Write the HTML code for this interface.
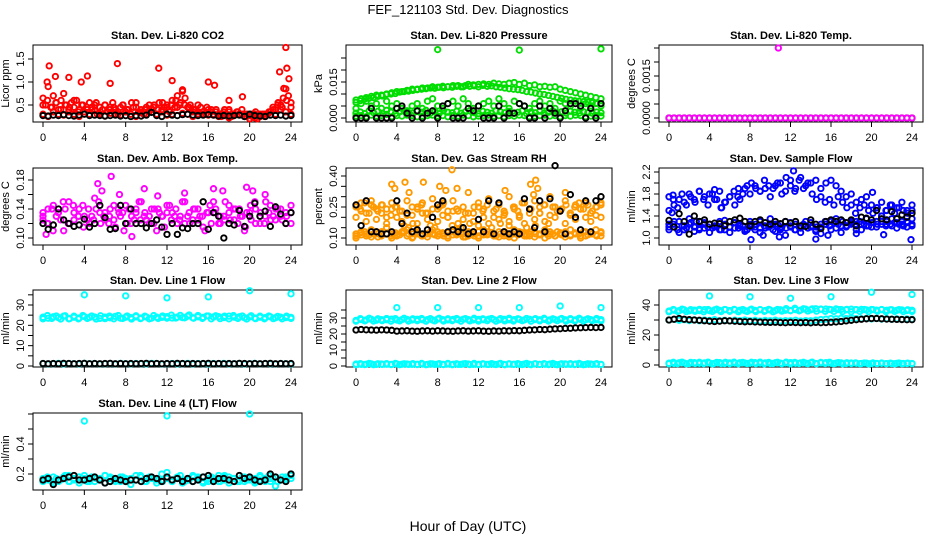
<!DOCTYPE html>
<html><head><meta charset="utf-8">
<style>
html,body{margin:0;padding:0;background:#fff;}
svg{display:block;font-family:"Liberation Sans",sans-serif;}
</style></head>
<body>
<svg id="chart" width="936" height="540" viewBox="0 0 936 540">
<text x="468" y="14" text-anchor="middle" font-size="13">FEF_121103  Std. Dev. Diagnostics</text>
<text x="468" y="531" text-anchor="middle" font-size="14">Hour of Day (UTC)</text>
</svg>
<script>
// ---- data (hours spread evenly 0..24) ----
const co2Red=[0.65,0.5,0.9,0.45,0.7,0.55,0.4,0.6,0.75,0.5,0.35,0.55,0.45,0.6,0.4,0.5,0.35,0.45,0.55,0.4,0.5,0.3,0.45,0.4,0.5,0.35,0.45,0.55,0.4,0.3,0.45,0.5,0.35,0.4,0.3,0.45,0.55,0.35,0.4,0.3,0.45,0.35,0.4,0.5,0.3,0.55,0.4,0.45,0.5,0.35,0.6,0.45,0.7,0.5,0.8,0.65,0.45,0.5,0.35,0.4,0.3,0.45,0.35,0.3,0.4,0.35,0.3,0.4,0.3,0.25,0.35,0.3,0.4,0.25,0.3,0.35,0.3,0.4,0.25,0.3,0.2,0.25,0.3,0.2,0.25,0.3,0.25,0.3,0.35,0.45,0.4,0.55,0.5,0.65,0.85,0.7,0.45];
const co2Red2=[0.3,0.25,0.35,0.3,0.28,0.4,0.3,0.25,0.35,0.3,0.38,0.3,0.26,0.32,0.3,0.28,0.35,0.3,0.25,0.33,0.3,0.42,0.3,0.35,0.28,0.3,0.45,0.32,0.3,0.25,0.35,0.3,0.28,0.3,0.25,0.3,0.22,0.28,0.3,0.25,0.28,0.22,0.3,0.26,0.35,0.3,0.4,0.35,0.3];
const co2Red3=[0.5,0.6,0.45,0.55,0.4,0.5,0.45,0.6,0.35,0.5,0.4,0.45,0.55,0.35,0.5,0.4,0.45,0.35,0.5,0.4,0.55,0.45,0.35,0.4,0.5,0.45,0.4,0.55,0.45,0.5,0.6,0.55,0.5,0.45,0.4,0.5,0.35,0.45,0.4,0.35,0.3,0.4,0.35,0.3,0.35,0.3,0.25,0.3,0.35,0.25,0.3,0.35,0.4,0.5,0.45,0.6,0.55];
const co2Black=[0.27,0.26,0.28,0.27,0.29,0.27,0.26,0.28,0.3,0.27,0.28,0.27,0.26,0.27,0.28,0.26,0.27,0.25,0.27,0.26,0.28,0.34,0.27,0.25,0.3,0.28,0.27,0.29,0.3,0.28,0.27,0.28,0.29,0.28,0.26,0.27,0.26,0.27,0.28,0.25,0.3,0.27,0.26,0.25,0.28,0.27,0.28,0.26,0.27];
const co2OutH=[0.4,0.6,1.2,2.5,3.7,4.3,6.5,7.2,11.2,12.5,13.5,16,16.6,18,19.3,22.9,23.3,23.5,23.6,23.8];
const co2OutV=[1.0,1.35,1.12,1.1,1.0,1.13,0.97,1.4,1.3,1.03,0.83,1.0,0.93,0.6,0.68,1.22,0.86,1.75,1.3,1.07];

const prsUpper=[0.0075,0.008,0.0085,0.009,0.0095,0.0095,0.01,0.0105,0.011,0.011,0.0115,0.012,0.012,0.0125,0.0125,0.013,0.0128,0.0132,0.013,0.0135,0.0135,0.013,0.014,0.0138,0.014,0.0142,0.014,0.0145,0.0142,0.014,0.0145,0.0148,0.014,0.0145,0.0135,0.0138,0.013,0.0132,0.0128,0.013,0.012,0.0115,0.011,0.0105,0.01,0.0095,0.009,0.0085,0.008];
const prsUpper2=[0.0065,0.0072,0.0078,0.0082,0.0085,0.009,0.0092,0.0098,0.01,0.0102,0.0108,0.011,0.0112,0.0115,0.0118,0.012,0.0122,0.0125,0.0124,0.0128,0.0126,0.013,0.0128,0.0132,0.013,0.0135,0.0132,0.0134,0.013,0.0136,0.0132,0.0134,0.013,0.0128,0.0125,0.0122,0.012,0.0118,0.0115,0.011,0.0108,0.0104,0.01,0.0098,0.0094,0.009,0.0086,0.0082,0.0078,0.0075,0.0072,0.007,0.0068,0.0066,0.0064,0.0062,0.006];
const prsMid=[0.004,0.006,0.007,0.005,0.006,0.004,0.007,0.005,0.006,0.004,0.003,0.005,0.006,0.004,0.007,0.008,0.005,0.004,0.006,0.007,0.005,0.008,0.006,0.004,0.005,0.006,0.007,0.005,0.008,0.006,0.004,0.007,0.006,0.005,0.004,0.006,0.007,0.005,0.006,0.004,0.007,0.006,0.005,0.007,0.004,0.006,0.005,0.006,0.005];
const prsLow=[0.0008,0.001,0.0005,0.0012,0.0008,0.001,0.0015,0.0005,0.001,0.0008,0.0012,0.001,0.0005,0.0008,0.001,0.0012,0.0008,0.001,0.0005,0.001,0.0008,0.0012,0.001,0.0005,0.0008,0.001,0.0012,0.0008,0.001,0.0005,0.001,0.0008,0.0012,0.001,0.0005,0.0008,0.001,0.0012,0.0008,0.001,0.0005,0.001,0.0008,0.0012,0.001,0.0005,0.0008,0.001,0.0008];
const prsLow2=[0.002,0.0025,0.0018,0.003,0.0022,0.0028,0.002,0.0032,0.0024,0.0018,0.0026,0.003,0.0022,0.002,0.0028,0.0024,0.0032,0.002,0.0026,0.0018,0.003,0.0024,0.0022,0.0028,0.002,0.0026,0.003,0.0022,0.0018,0.0028,0.0024,0.002,0.003,0.0026,0.0022,0.0028,0.002,0.0024,0.003,0.0018,0.0026,0.0022,0.0028,0.002,0.0024,0.003,0.0022,0.0026,0.002,0.0028,0.0024,0.002,0.0026,0.0022,0.002,0.0025,0.0022];
const prsBlack=[0,0,0,0.004,0,0,0,0,0.004,0.005,0.002,0,0.003,0,0.002,0.003,0,0.005,0.006,0,0,0,0.004,0.003,0.005,0,0,0,0.005,0,0.002,0.002,0.006,0.005,0,0,0.005,0,0.004,0.002,0,0.003,0.006,0.006,0.005,0,0.004,0,0.006];
const prsOutH=[8,16,24];
const prsOutV=[0.0285,0.0283,0.0288];

const tmpMag=[0,0,0,0,0,0,0,0,0,0,0,0,0,0,0,0,0,0,0,0,0,0,0,0,0,0,0,0,0,0,0,0,0,0,0,0,0,0,0,0,0,0,0,0,0,0,0,0,0];
const tmpBlack=[0,0,0,0,0,0,0,0,0,0,0,0,0,0,0,0,0,0,0,0,0,0,0,0,0,0,0,0,0,0,0,0,0,0,0,0,0,0,0,0,0,0,0,0,0,0,0,0,0];
const tmpOutH=[10.8];
const tmpOutV=[0.0025];

const ambMag=[0.125,0.14,0.11,0.135,0.15,0.12,0.145,0.13,0.115,0.14,0.125,0.15,0.13,0.12,0.145,0.135,0.11,0.14,0.125,0.15,0.13,0.12,0.14,0.135,0.115,0.145,0.13,0.125,0.15,0.12,0.14,0.13,0.11,0.145,0.135,0.12,0.15,0.125,0.14,0.13,0.115,0.145,0.12,0.135,0.15,0.125,0.14,0.13,0.12,0.145];
const ambMag2=[0.13,0.12,0.145,0.135,0.11,0.15,0.125,0.14,0.13,0.12,0.155,0.135,0.125,0.14,0.115,0.13,0.145,0.12,0.135,0.15,0.125,0.14,0.11,0.13,0.145,0.135,0.12,0.15,0.13,0.125,0.14,0.115,0.135,0.15,0.12,0.13,0.145,0.125,0.14,0.11,0.135,0.15,0.12,0.13,0.145,0.125,0.14,0.135,0.12];
const ambMag3=[0.135,0.12,0.14,0.13,0.125,0.14,0.12,0.135,0.13,0.145,0.125,0.13,0.14,0.12,0.135,0.13,0.125,0.14,0.135,0.12,0.13,0.14,0.125,0.135,0.13,0.12,0.14,0.13,0.135,0.125,0.14,0.13,0.12,0.135,0.14,0.125,0.13,0.135,0.12,0.14,0.13,0.125,0.135,0.14,0.12,0.13,0.135,0.125,0.14,0.13,0.12,0.135,0.13,0.14,0.125,0.13,0.135];
const ambBlack=[0.12,0.112,0.118,0.14,0.125,0.12,0.116,0.118,0.126,0.115,0.12,0.145,0.128,0.112,0.113,0.145,0.12,0.14,0.12,0.12,0.114,0.12,0.125,0.115,0.105,0.12,0.105,0.114,0.113,0.12,0.12,0.15,0.112,0.135,0.13,0.1,0.12,0.118,0.138,0.116,0.13,0.148,0.13,0.137,0.116,0.143,0.133,0.12,0.135];
const ambOutH=[0.3,5.3,5.7,6.6,9.8,11.1,13.7,16.5,17.4,19.7,20.3,21.5,7.4,8.6];
const ambOutV=[0.105,0.175,0.165,0.185,0.168,0.158,0.162,0.168,0.165,0.17,0.165,0.16,0.16,0.102];

const rhLow=[0.12,0.13,0.11,0.14,0.12,0.13,0.15,0.12,0.11,0.13,0.14,0.12,0.13,0.11,0.12,0.14,0.13,0.12,0.11,0.13,0.14,0.12,0.13,0.12,0.11,0.14,0.13,0.12,0.13,0.11,0.12,0.14,0.13,0.12,0.11,0.13,0.12,0.14,0.13,0.11,0.12,0.13,0.14,0.12,0.11,0.13,0.12,0.14,0.13];
const rhLow2=[0.1,0.115,0.12,0.105,0.13,0.11,0.12,0.1,0.115,0.125,0.11,0.1,0.12,0.115,0.105,0.12,0.11,0.125,0.1,0.115,0.12,0.105,0.11,0.13,0.1,0.115,0.12,0.11,0.105,0.12,0.115,0.1,0.125,0.11,0.12,0.105,0.115,0.1,0.12,0.11,0.125,0.105,0.115,0.12,0.1,0.11,0.12,0.115,0.11];
const rhLow3=[0.11,0.125,0.13,0.115,0.12,0.105,0.13,0.12,0.11,0.125,0.115,0.13,0.12,0.105,0.125,0.11,0.12,0.13,0.115,0.12,0.11,0.125,0.13,0.115,0.12,0.105,0.125,0.11,0.13,0.12,0.115,0.125,0.11,0.12,0.13,0.105,0.12,0.115,0.125,0.11,0.13,0.12,0.115,0.125,0.11,0.12,0.13,0.115,0.12,0.11,0.125,0.12,0.13,0.115,0.12,0.11,0.125];
const rhHigh=[0.25,0.27,0.22,0.28,0.24,0.26,0.2,0.27,0.25,0.23,0.28,0.21,0.25,0.27,0.22,0.29,0.24,0.26,0.2,0.28,0.23,0.25,0.32,0.22,0.27,0.24,0.29,0.2,0.26,0.23,0.3,0.25,0.21,0.27,0.24,0.28,0.22,0.26,0.3,0.25,0.23,0.28,0.21,0.26,0.24,0.27,0.22,0.25,0.26];
const rhHigh2=[0.2,0.23,0.18,0.26,0.19,0.22,0.17,0.24,0.2,0.18,0.21,0.25,0.17,0.22,0.19,0.24,0.18,0.21,0.2,0.23,0.17,0.19,0.22,0.18,0.25,0.2,0.17,0.23,0.19,0.21,0.18,0.24,0.2,0.17,0.22,0.19,0.25,0.18,0.21,0.2,0.23,0.17,0.22,0.19,0.24,0.2,0.18,0.21,0.2];
const rhHigh3=[0.26,0.24,0.27,0.22,0.25,0.23,0.26,0.24,0.21,0.25,0.23,0.16,0.15,0.17,0.24,0.26,0.22,0.16,0.15,0.25,0.27,0.23,0.16,0.24,0.15,0.22,0.17,0.25,0.16,0.23,0.26,0.15,0.24,0.17,0.22,0.16,0.25,0.23,0.27,0.15,0.24,0.16,0.22,0.26,0.17,0.25,0.23,0.24,0.26,0.22,0.25,0.27,0.24,0.26,0.23,0.25,0.27];
const rhOutH=[3.5,3.8,4.8,5.2,6.6,9.4,9.9,8.2,8.8,17.1,17.4,17.6,17.8,20.5,14.6];
const rhOutV=[0.36,0.34,0.37,0.32,0.37,0.43,0.34,0.35,0.33,0.36,0.31,0.38,0.34,0.32,0.33];
const rhBlack=[0.26,0.16,0.28,0.13,0.13,0.12,0.12,0.13,0.28,0.17,0.22,0.13,0.14,0.12,0.14,0.2,0.26,0.28,0.13,0.14,0.13,0.15,0.12,0.13,0.19,0.13,0.28,0.12,0.27,0.13,0.12,0.13,0.12,0.29,0.24,0.15,0.28,0.13,0.29,0.45,0.23,0.12,0.31,0.2,0.14,0.28,0.13,0.28,0.3];

const sfLow=[1.25,1.2,1.3,1.15,1.25,1.2,1.3,1.18,1.25,1.22,1.3,1.15,1.2,1.28,1.22,1.15,1.25,1.2,1.3,1.18,1.22,1.25,1.15,1.3,1.2,1.25,1.18,1.22,1.28,1.15,1.2,1.25,1.3,1.18,1.22,1.2,1.25,1.3,1.15,1.22,1.28,1.2,1.25,1.3,1.22,1.18,1.25,1.3,1.22];
const sfLow2=[1.15,1.3,1.1,1.22,1.35,1.12,1.18,1.28,1.1,1.2,1.15,1.32,1.1,1.18,1.25,1.12,1.3,1.15,1.1,1.22,1.35,1.12,1.18,1.05,1.28,1.15,1.1,1.3,1.2,1.12,1.08,1.25,1.15,1.35,1.1,1.22,1.3,1.15,1.25,1.35,1.2,1.3,1.4,1.25,1.35,1.28,1.3,1.2,1.35];
const sfLow3=[1.2,1.25,1.15,1.22,1.18,1.28,1.2,1.15,1.25,1.2,1.18,1.22,1.15,1.25,1.2,1.28,1.18,1.22,1.15,1.2,1.25,1.18,1.22,1.2,1.15,1.25,1.2,1.18,1.22,1.15,1.2,1.25,1.18,1.22,1.2,1.25,1.3,1.22,1.28,1.25,1.3,1.22,1.28,1.25,1.3,1.25,1.22,1.28,1.25,1.3,1.22,1.25,1.28,1.25,1.22,1.28,1.25];
const sfHigh=[1.75,1.6,1.7,1.65,1.8,1.7,1.85,1.75,1.8,1.7,1.85,1.65,1.75,1.6,1.7,1.9,1.8,1.95,1.85,1.9,1.75,1.95,2.0,1.85,2.05,1.9,2.1,1.95,2.0,2.05,1.9,2.0,2.05,1.95,1.85,1.75,1.8,1.65,1.7,1.75,1.6,1.55,1.65,1.5,1.6,1.55,1.65,1.5,1.6];
const sfHigh2=[1.5,1.7,1.55,1.8,1.6,1.75,1.65,1.85,1.7,1.6,1.8,1.7,1.55,1.65,1.75,1.85,1.9,1.8,1.95,2.0,1.9,1.85,2.05,1.95,1.9,2.0,1.8,2.1,1.95,1.85,2.05,1.9,2.0,1.8,1.7,1.75,1.65,1.7,1.6,1.75,1.65,1.55,1.6,1.45,1.55,1.6,1.5,1.45,1.55,1.4,1.5,1.6,1.45,1.55,1.5,1.45,1.5];
const sfOutH=[0.4,2.7,5.2,8.1,9.3,10.9,12.3,14.5,15.7,18.5,20.1,21.2,23.9,0.3,4.5,6.8];
const sfOutV=[1.78,1.3,1.55,0.97,1.05,1.02,2.22,0.98,1.05,1.08,1.83,1.06,0.97,1.46,1.88,1.75];
const sfBlack=[1.32,1.2,1.44,1.3,1.07,1.4,1.3,1.33,1.25,1.27,1.26,1.22,1.3,1.33,1.36,1.3,1.22,1.3,1.33,1.28,1.25,1.3,1.26,1.3,1.27,1.3,1.22,1.21,1.33,1.25,1.17,1.3,1.33,1.3,1.33,1.28,1.33,1.22,1.38,1.36,1.33,1.5,1.35,1.33,1.48,1.35,1.42,1.38,1.45];

const l1Cyan=[24,23.5,24.2,23.8,24.5,23.2,24,23.6,24.3,23.9,24.1,23.4,24,23.7,24.4,23.5,24,23.8,24.2,23.6,24.1,23.5,24,23.9,24.3,23.6,24,23.8,24.5,23.7,24.2,23.9,24.6,24.1,24.3,23.8,24.5,24,24.2,23.7,24.1,23.6,24,23.8,24.2,23.7,24,23.8,23.9];
const l1Cyan2=[23.2,24.8,23.4,24.6,23.1,24.7,23.3,24.5,23.2,24.8,23.4,24.6,23.1,24.7,23.3,24.5,23.2,24.8,23.4,24.6,23.1,24.7,23.3,24.5,23.2,24.8,23.4,24.6,23.5,25,23.6,24.9,23.7,25.1,23.5,24.8,23.4,24.6,23.2,24.7,23.3,24.5,23.2,24.8,23.4,24.6,23.1,24.7,23.3,24.5,23.2,24.6,23.3,24.4,23.2,24.5,23.4];
const l1CyanLow=[1.2,1,1.1,1.3,1,1.2,1.1,1,1.3,1.1,1.2,1,1.1,1.2,1,1.3,1.1,1,1.2,1.1,1,1.3,1.2,1,1.1,1.2,1,1.1,1.3,1,1.2,1.1,1,1.2,1.1,1.3,1,1.1,1.2,1,1.1,1.3,1,1.2,1.1,1,1.2,1.1,1];
const l1Black=[1.2,1.1,1.2,1.1,1.3,1.2,1.1,1.2,1.3,1.1,1.2,1.1,1.2,1.3,1.1,1.2,1.1,1.2,1.1,1.2,1.3,1.1,1.2,1.1,1.2,1.1,1.3,1.2,1.1,1.2,1.1,1.2,1.3,1.1,1.2,1.1,1.2,1.1,1.3,1.2,1.1,1.2,1.1,1.2,1.3,1.1,1.2,1.1,1.2];
const l1OutH=[4,8,12,16,20,24];
const l1OutV=[35,34.5,33.5,34,37,35.5];

const l2Cyan=[28.5,29,28.8,29.2,28.6,29,28.9,29.3,28.7,29,29.1,28.8,29.2,28.9,29,28.7,29.3,29,28.8,29.1,28.9,29.2,29,28.8,29.1,28.9,29.3,29,28.8,29.2,28.9,29,29.1,28.8,29.2,29,28.9,29.1,28.8,29,29.2,28.9,29,28.8,29.1,28.9,29,28.8,29];
const l2Cyan2=[28,29.6,28.2,29.8,28.1,29.5,28.3,29.7,28,29.6,28.2,29.8,28.1,29.5,28.3,29.7,28,29.6,28.2,29.8,28.1,29.5,28.3,29.7,28,29.6,28.2,29.8,28.1,29.5,28.3,29.7,28,29.6,28.2,29.8,28.1,29.5,28.3,29.7,28,29.6,28.2,29.8,28.1,29.5,28.3,29.7,28,29.6,28.2,29.8,28.1,29.5,28.3,29.7,28.2];
const l2CyanLow=[1.2,1,1.1,1.3,1,1.2,1.1,1,1.3,1.1,1.2,1,1.1,1.2,1,1.3,1.1,1,1.2,1.1,1,1.3,1.2,1,1.1,1.2,1,1.1,1.3,1,1.2,1.1,1,1.2,1.1,1.3,1,1.1,1.2,1,1.1,1.3,1,1.2,1.1,1,1.2,1.1,1];
const l2CyanLow2=[0.8,1.5,0.9,1.6,0.8,1.4,1,1.5,0.9,1.6,0.8,1.4,1,1.5,0.9,1.6,0.8,1.4,1,1.5,0.9,1.6,0.8,1.4,1,1.5,0.9,1.6,0.8,1.4,1,1.5,0.9,1.6,0.8,1.4,1,1.5,0.9,1.6,0.8,1.4,1,1.5,0.9,1.6,0.8,1.4,1,1.5,0.9,1.6,0.8,1.4,1,1.5,0.9];
const l2Black=[22.5,22.8,22.6,22.5,22.4,22.6,22.5,22.3,21.8,21.9,22,21.8,21.7,21.9,22,21.8,22,21.9,21.8,21.7,21.9,22,21.8,21.9,22,21.8,21.7,21.9,21.8,22,21.9,22.1,22,22.3,22.5,22.6,22.8,22.7,23,23.2,23.3,23.5,23.6,23.8,23.9,24,24.1,24,24.1];
const l2OutH=[4,8,12,16,20,24];
const l2OutV=[36.5,36.5,36.5,36.5,37.5,36.5];

const l3Cyan=[36,36.5,36.2,36.8,36.1,36.6,36.3,36.9,36.2,36.7,36.4,37,36.3,36.8,36.5,36.2,36.7,36.4,36.9,36.3,36.6,36.2,36.8,36.5,36.3,36.9,36.6,37.2,36.8,37.5,37.1,37.3,36.9,37.4,37,36.8,37.2,36.9,37.1,36.7,37,36.6,36.9,36.5,36.8,36.4,36.7,36.3,36.5];
const l3Cyan2=[35.5,37,35.7,37.2,35.6,36.9,35.8,37.1,35.5,37,35.7,37.2,35.6,36.9,35.8,37.1,35.5,37,35.7,37.2,35.6,36.9,35.8,37.1,35.5,37,35.9,37.6,36.2,37.8,36.1,37.5,36,37.4,35.9,37.3,35.8,37.1,35.7,37,35.6,37.1,35.5,36.9,35.7,37,35.6,36.9,35.8,37,35.5,36.8,35.7,36.9,35.6,36.8,35.7];
const l3CyanMid=[30,30.5,29.8,30.2,29.6,30.1,29.5,30,29.7,30.2,29.5,29.8,29.4,29.9,29.6,30,29.5,29.8,29.3,29.7,29.5,29.9,29.4,29.6,29.5,29.8,29.3,29.6,29.5,29.9,30.3,30.6,31,30.8,31.2,31,31.4,31,30.8,31.1,30.7,31,30.6,30.9,30.5,30.8,30.4,30.7,30.5];
const l3CyanLow=[1.2,1,1.5,1.3,1,1.6,1.1,1.4,1.3,1.1,1.6,1,1.4,1.2,1.5,1.3,1.1,1.6,1.2,1.4,1,1.5,1.2,1.3,1.6,1.1,1.4,1.2,1.5,1,1.3,1.6,1.1,1.2,1.4,1,1.3,1.1,1,1.2,0.9,1,1.1,0.9,1,1.1,0.9,1,1];
const l3CyanLow2=[0.8,1.8,0.9,1.9,0.8,1.7,1,1.8,0.9,1.9,0.8,1.7,1,1.8,0.9,1.9,0.8,1.7,1,1.8,0.9,1.9,0.8,1.7,1,1.8,0.9,1.9,0.8,1.7,1,1.8,0.9,1.9,0.8,1.7,1,1.8,0.9,1.6,0.8,1.5,1,1.4,0.9,1.3,0.8,1.4,1,1.3,0.9,1.2,0.8,1.3,1,1.2,0.9];
const l3Black=[30,30.5,31,30.5,30.2,30,29.8,29.5,29.2,29,29.2,29.5,29.4,29.2,29,28.8,28.9,28.7,28.6,28.5,28.4,28.5,28.3,28.2,28.4,28.3,28.2,28.3,28.1,28.4,28.2,28.3,28.5,28.7,29,29.4,29.8,30.2,30.5,30.8,31,31,30.8,30.6,30.5,30.4,30.3,30.2,30.2];
const l3OutH=[4,8,12,16,20,24];
const l3OutV=[46,45.5,44.5,45.5,48.5,47];

const l4Cyan=[0.17,0.16,0.18,0.15,0.17,0.19,0.16,0.18,0.17,0.15,0.18,0.16,0.19,0.17,0.15,0.18,0.16,0.17,0.19,0.15,0.17,0.18,0.16,0.2,0.17,0.15,0.18,0.16,0.17,0.19,0.16,0.18,0.15,0.17,0.19,0.16,0.18,0.17,0.15,0.18,0.16,0.17,0.19,0.15,0.17,0.18,0.16,0.17,0.19];
const l4Cyan2=[0.15,0.17,0.14,0.16,0.18,0.15,0.17,0.14,0.19,0.16,0.15,0.17,0.14,0.18,0.16,0.15,0.17,0.13,0.16,0.18,0.15,0.17,0.14,0.16,0.21,0.15,0.17,0.14,0.16,0.15,0.18,0.14,0.17,0.16,0.15,0.18,0.14,0.17,0.16,0.15,0.18,0.14,0.16,0.17,0.15,0.12,0.16,0.18,0.2];
const l4Cyan3=[0.16,0.18,0.15,0.17,0.16,0.19,0.15,0.17,0.18,0.16,0.15,0.18,0.17,0.16,0.19,0.15,0.17,0.16,0.18,0.15,0.17,0.16,0.19,0.15,0.18,0.17,0.16,0.15,0.18,0.16,0.17,0.19,0.15,0.16,0.18,0.17,0.15,0.16,0.18,0.17,0.15,0.19,0.16,0.17,0.15,0.18,0.16,0.17,0.15,0.18,0.16,0.19,0.17,0.15,0.18,0.16,0.17];
const l4Black=[0.16,0.17,0.13,0.16,0.17,0.18,0.19,0.16,0.16,0.17,0.18,0.16,0.14,0.15,0.17,0.16,0.15,0.16,0.16,0.15,0.17,0.18,0.17,0.15,0.18,0.16,0.17,0.15,0.17,0.15,0.16,0.18,0.19,0.15,0.17,0.17,0.16,0.15,0.19,0.17,0.18,0.16,0.15,0.16,0.2,0.18,0.16,0.15,0.2];
const l4OutH=[4,12,20];
const l4OutV=[0.553,0.587,0.6];

// ---- rendering ----
const NS='http://www.w3.org/2000/svg';
const svg=document.getElementById('chart');
function mk(tag,attrs,parent){const e=document.createElementNS(NS,tag);for(const k in attrs)e.setAttribute(k,attrs[k]);(parent||svg).appendChild(e);return e;}

function panel(p){
  const g=mk('g',{});
  
  
  const L=p.x,T=p.y,W=p.w,H=77,B=T+H;
  const xs=h=>L+10+h*(W-11-10)/24;
  const ys=v=>p.p0+(v-p.v0)*(p.p1-p.p0)/(p.v1-p.v0);
  const t=mk('text',{x:L+W/2,y:T-6,'text-anchor':'middle','font-size':11,'font-weight':'bold'},g);
  t.textContent=p.title;
  
  
  const box=mk('rect',{x:L,y:T,width:W,height:H,fill:'none',stroke:'#000','stroke-width':1},g);
  
  
  const xa=mk('g',{},g);
  
  
  mk('line',{x1:xs(0),x2:xs(24),y1:B,y2:B,stroke:'#000'},xa);
  for(let h=0;h<=24;h+=4){
    mk('line',{x1:xs(h),x2:xs(h),y1:B,y2:B+5,stroke:'#000'},xa);
    const tl=mk('text',{x:xs(h),y:B+19,'text-anchor':'middle','font-size':11},xa);
    tl.textContent=h;
    
    
  }
  const ya=mk('g',{},g);
  
  
  mk('line',{x1:L,x2:L,y1:ys(p.ticks[0]),y2:ys(p.ticks[p.ticks.length-1]),stroke:'#000'},ya);
  p.ticks.forEach((v,i)=>{
    const y=ys(v);
    mk('line',{x1:L,x2:L-5,y1:y,y2:y,stroke:'#000'},ya);
    if(p.labels[i]){
      const tl=mk('text',{x:0,y:0,'text-anchor':'middle','font-size':11,transform:`translate(${L-9},${y}) rotate(-90)`},ya);
      tl.textContent=p.labels[i];
      
      
    }
  });
  const yt=mk('text',{x:0,y:0,'text-anchor':'middle','font-size':11,transform:`translate(${L-24},${T+H/2}) rotate(-90)`},g);
  yt.textContent=p.ylab;
  
  
  p.series.forEach(s=>{
    const sg=mk('g',{fill:'none',stroke:s.color,'stroke-width':1.9},g);
    
    
    const n=s.vals.length;
    s.vals.forEach((v,i)=>{
      const h=s.hours?s.hours[i]:i*24/(n-1);
      const c=mk('circle',{cx:xs(h),cy:ys(v),r:2.7},sg);
      
      
    });
  });
}
const RED='#ff0000',GRN='#00dd00',MAG='#ff00ff',ORA='#ff9900',BLU='#0000ff',CY='#00ffff',BK='#000000';
const c1=33,c2=346,c3=659,r1=45,r2=168,r3=290,r4=413;
const panels=[
 {name:'panel-co2',title:'Stan. Dev. Li-820 CO2',ylab:'Licor ppm',x:c1,y:r1,w:269,v0:0.5,p0:105,v1:1.5,p1:59,ticks:[0.5,1,1.5],labels:['0.5','1.0','1.5'],
  series:[{name:'co2-series',color:RED,vals:co2Red},{name:'co2-series-b',color:RED,vals:co2Red2},{name:'co2-series-c',color:RED,vals:co2Red3},{name:'co2-outliers',color:RED,vals:co2OutV,hours:co2OutH},{name:'co2-hourly',color:BK,vals:co2Black}]},
 {name:'panel-pressure',title:'Stan. Dev. Li-820 Pressure',ylab:'kPa',x:c2,y:r1,w:266,v0:0,p0:118,v1:0.015,p1:82,ticks:[0,0.005,0.01,0.015,0.02,0.025],labels:['0.000','','','0.015','',''],
  series:[{name:'pressure-upper',color:GRN,vals:prsUpper},{name:'pressure-upper-b',color:GRN,vals:prsUpper2},{name:'pressure-mid',color:GRN,vals:prsMid},{name:'pressure-low',color:GRN,vals:prsLow},{name:'pressure-low-b',color:GRN,vals:prsLow2},{name:'pressure-outliers',color:GRN,vals:prsOutV,hours:prsOutH},{name:'pressure-hourly',color:BK,vals:prsBlack}]},
 {name:'panel-temp',title:'Stan. Dev. Li-820 Temp.',ylab:'degrees C',x:c3,y:r1,w:264,v0:0,p0:118,v1:0.0015,p1:76,ticks:[0,0.0005,0.001,0.0015,0.002,0.0025],labels:['0.0000','','','0.0015','',''],
  series:[{name:'temp-hourly',color:BK,vals:tmpBlack},{name:'temp-series',color:MAG,vals:tmpMag},{name:'temp-outliers',color:MAG,vals:tmpOutV,hours:tmpOutH}]},
 {name:'panel-amb-box',title:'Stan. Dev. Amb. Box Temp.',ylab:'degrees C',x:c1,y:r2,w:269,v0:0.10,p0:238,v1:0.18,p1:180,ticks:[0.1,0.12,0.14,0.16,0.18],labels:['0.10','','0.14','','0.18'],
  series:[{name:'amb-series',color:MAG,vals:ambMag},{name:'amb-series-b',color:MAG,vals:ambMag2},{name:'amb-series-c',color:MAG,vals:ambMag3},{name:'amb-outliers',color:MAG,vals:ambOutV,hours:ambOutH},{name:'amb-hourly',color:BK,vals:ambBlack}]},
 {name:'panel-rh',title:'Stan. Dev. Gas Stream RH',ylab:'percent',x:c2,y:r2,w:266,v0:0.10,p0:238,v1:0.40,p1:176,ticks:[0.1,0.15,0.2,0.25,0.3,0.35,0.4],labels:['0.10','','','0.25','','','0.40'],
  series:[{name:'rh-upper',color:ORA,vals:rhHigh},{name:'rh-upper-b',color:ORA,vals:rhHigh2},{name:'rh-upper-c',color:ORA,vals:rhHigh3},{name:'rh-lower',color:ORA,vals:rhLow},{name:'rh-lower-b',color:ORA,vals:rhLow2},{name:'rh-lower-c',color:ORA,vals:rhLow3},{name:'rh-outliers',color:ORA,vals:rhOutV,hours:rhOutH},{name:'rh-hourly',color:BK,vals:rhBlack}]},
 {name:'panel-sample-flow',title:'Stan. Dev. Sample Flow',ylab:'ml/min',x:c3,y:r2,w:264,v0:1.0,p0:238,v1:2.2,p1:172,ticks:[1,1.2,1.4,1.6,1.8,2,2.2],labels:['1.0','','1.4','','1.8','','2.2'],
  series:[{name:'sample-flow-upper',color:BLU,vals:sfHigh},{name:'sample-flow-upper-b',color:BLU,vals:sfHigh2},{name:'sample-flow-lower',color:BLU,vals:sfLow},{name:'sample-flow-lower-b',color:BLU,vals:sfLow2},{name:'sample-flow-lower-c',color:BLU,vals:sfLow3},{name:'sample-flow-outliers',color:BLU,vals:sfOutV,hours:sfOutH},{name:'sample-flow-hourly',color:BK,vals:sfBlack}]},
 {name:'panel-line1',title:'Stan. Dev. Line 1 Flow',ylab:'ml/min',x:c1,y:r3,w:269,v0:0,p0:366,v1:30,p1:305,ticks:[0,5,10,15,20,25,30,35],labels:['0','','10','','20','','30',''],
  series:[{name:'line1-series',color:CY,vals:l1Cyan},{name:'line1-series-b',color:CY,vals:l1Cyan2},{name:'line1-low',color:CY,vals:l1CyanLow},{name:'line1-outliers',color:CY,vals:l1OutV,hours:l1OutH},{name:'line1-hourly',color:BK,vals:l1Black}]},
 {name:'panel-line2',title:'Stan. Dev. Line 2 Flow',ylab:'ml/min',x:c2,y:r3,w:266,v0:0,p0:366,v1:30,p1:318,ticks:[0,5,10,15,20,25,30,35],labels:['0','','10','','20','','30',''],
  series:[{name:'line2-series',color:CY,vals:l2Cyan},{name:'line2-series-b',color:CY,vals:l2Cyan2},{name:'line2-low',color:CY,vals:l2CyanLow},{name:'line2-low-b',color:CY,vals:l2CyanLow2},{name:'line2-outliers',color:CY,vals:l2OutV,hours:l2OutH},{name:'line2-hourly',color:BK,vals:l2Black}]},
 {name:'panel-line3',title:'Stan. Dev. Line 3 Flow',ylab:'ml/min',x:c3,y:r3,w:264,v0:0,p0:365,v1:40,p1:305,ticks:[0,10,20,30,40],labels:['0','','20','','40'],
  series:[{name:'line3-series',color:CY,vals:l3Cyan},{name:'line3-series-b',color:CY,vals:l3Cyan2},{name:'line3-mid',color:CY,vals:l3CyanMid},{name:'line3-low',color:CY,vals:l3CyanLow},{name:'line3-low-b',color:CY,vals:l3CyanLow2},{name:'line3-outliers',color:CY,vals:l3OutV,hours:l3OutH},{name:'line3-hourly',color:BK,vals:l3Black}]},
 {name:'panel-line4',title:'Stan. Dev. Line 4 (LT) Flow',ylab:'ml/min',x:c1,y:r4,w:269,v0:0.2,p0:474,v1:0.4,p1:444,ticks:[0.2,0.3,0.4,0.5,0.6],labels:['0.2','','0.4','',''],
  series:[{name:'line4-series',color:CY,vals:l4Cyan},{name:'line4-series-b',color:CY,vals:l4Cyan2},{name:'line4-series-c',color:CY,vals:l4Cyan3},{name:'line4-outliers',color:CY,vals:l4OutV,hours:l4OutH},{name:'line4-hourly',color:BK,vals:l4Black}]}
];
panels.forEach(panel);
</script>
</body></html>
